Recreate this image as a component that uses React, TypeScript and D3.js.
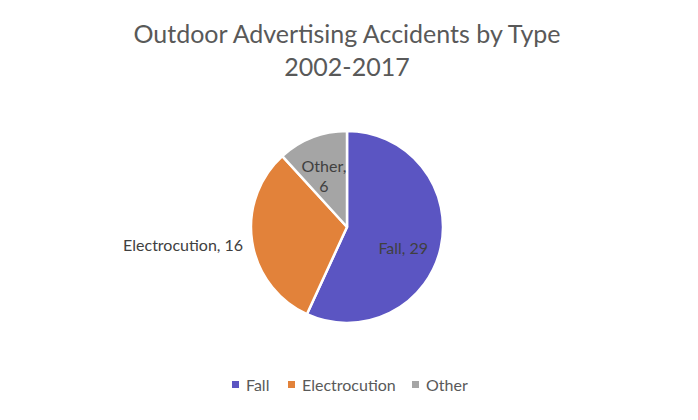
import * as d3 from "d3";

const categories = ["Fall", "Electrocution", "Other"];
const values = [29, 16, 6];
const colors = ["#5b55c2", "#e2823a", "#a5a5a5"];
const titleLines = ["Outdoor Advertising Accidents by Type", "2002-2017"];

type Slice = { name: string; value: number; color: string };

export default function App() {
  const width = 698;
  const height = 420;
  const cx = 347;
  const cy = 227;
  const radius = 96;
  const font = "Lato, 'Open Sans', sans-serif";
  const textColor = "#595959";

  const data: Slice[] = categories.map((name, i) => ({
    name,
    value: values[i],
    color: colors[i],
  }));

  const pie = d3
    .pie<Slice>()
    .sort(null)
    .value((d) => d.value)
    .startAngle(0)
    .endAngle(2 * Math.PI);
  const arcs = pie(data);

  const arc = d3.arc<d3.PieArcDatum<Slice>>().innerRadius(0).outerRadius(radius);

  // label placement, roughly what the spreadsheet's "best fit" did
  const labelPos = (a: d3.PieArcDatum<Slice>, i: number) => {
    const mid = (a.startAngle + a.endAngle) / 2;
    if (i === 1) {
      const x = radius * Math.sin(mid);
      const y = -radius * Math.cos(mid);
      return { x: x - 9, y: y + 4, anchor: "end", lines: [`${a.data.name}, ${a.data.value}`] };
    }
    if (i === 0) {
      const r = radius * 0.6;
      return {
        x: r * Math.sin(mid),
        y: -r * Math.cos(mid) + 9,
        anchor: "middle",
        lines: [`${a.data.name}, ${a.data.value}`],
      };
    }
    const r = radius * 0.55;
    return {
      x: r * Math.sin(mid) - 4,
      y: -r * Math.cos(mid) - 1,
      anchor: "middle",
      lines: [`${a.data.name},`, `${a.data.value}`],
    };
  };

  const legendX = d3
    .scaleOrdinal<string, number>()
    .domain(categories)
    .range([232, 288, 412]);

  return (
    <svg
      width={width}
      height={height}
      style={{ position: "absolute", left: 0, top: 0, background: "#fff" }}
    >
      {titleLines.map((t, i) => (
        <text
          key={t}
          x={width / 2 - 2}
          y={43 + i * 33}
          textAnchor="middle"
          fontFamily={font}
          fontSize={25}
          fill={textColor}
        >
          {t}
        </text>
      ))}

      <g transform={`translate(${cx},${cy})`}>
        {arcs.map((a) => (
          <path
            key={a.data.name}
            d={arc(a) ?? ""}
            fill={a.data.color}
            stroke="#fff"
            strokeWidth={2.5}
            strokeLinejoin="round"
          />
        ))}
        {arcs.map((a, i) => {
          const p = labelPos(a, i);
          const n = p.lines.length;
          return (
            <text
              key={`l-${a.data.name}`}
              x={p.x}
              y={p.y}
              textAnchor={p.anchor}
              fontFamily={font}
              fontSize={16}
              fill="#404040"
            >
              {p.lines.map((l, j) => (
                <tspan key={j} x={p.x} dy={j === 0 ? `${0.35 - (n - 1) * 0.62}em` : "1.25em"}>
                  {l}
                </tspan>
              ))}
            </text>
          );
        })}
      </g>

      {categories.map((c, i) => (
        <g key={`lg-${c}`} transform={`translate(${legendX(c)},385)`}>
          <rect x={0} y={-4} width={7} height={7} fill={colors[i]} />
          <text x={14} y={0} dy="0.35em" fontFamily={font} fontSize={16} fill={textColor}>
            {c}
          </text>
        </g>
      ))}
    </svg>
  );
}
